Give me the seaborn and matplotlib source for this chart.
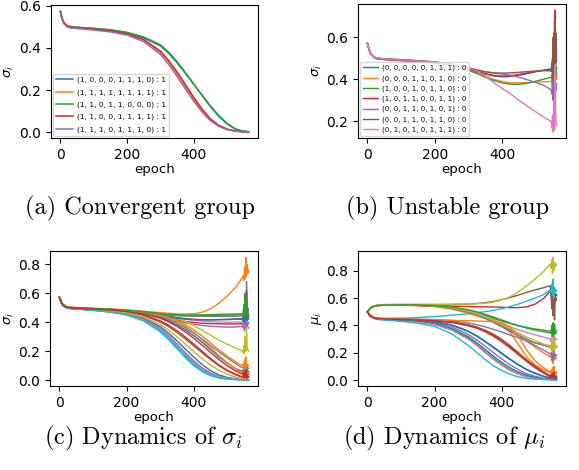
import numpy as np
import pandas as pd
import matplotlib
matplotlib.use("Agg")
import matplotlib.pyplot as plt
import seaborn as sns

plt.rcParams["xtick.labelsize"] = 10
plt.rcParams["ytick.labelsize"] = 10
plt.rcParams["axes.labelsize"] = 9.5

EPOCH_MAIN = [0, 5, 10, 20, 30, 50, 100, 150, 200, 250, 300, 325, 350, 375, 400, 425, 450, 475, 500, 525, 545]
EPOCH_A = EPOCH_MAIN + [565]
EPOCH_B = EPOCH_MAIN + [547, 549, 551, 553, 555, 557, 559, 561]
EPOCH_CD = EPOCH_MAIN + [548, 550, 552, 554, 556, 558, 560, 562, 564]

# (a) convergent group
labels_a = ["(1, 0, 0, 0, 1, 1, 1, 0) : 1", "(1, 1, 1, 1, 1, 1, 1, 1) : 1", "(1, 1, 0, 1, 1, 0, 0, 0) : 1",
            "(1, 1, 0, 0, 1, 1, 1, 1) : 1", "(1, 1, 1, 0, 1, 1, 1, 0) : 1"]
sigma_a = [
    [.572, .540, .520, .505, .500, .497, .492, .485, .472, .448, .410, .375, .330, .280, .228, .176, .125, .080, .042, .016, .006, .002],
    [.572, .540, .520, .505, .500, .497, .490, .482, .468, .438, .380, .333, .278, .218, .158, .103, .060, .030, .013, .005, .002, .001],
    [.575, .540, .520, .506, .501, .498, .493, .486, .474, .452, .415, .380, .335, .284, .230, .175, .122, .076, .040, .015, .005, .002],
    [.570, .540, .520, .504, .499, .496, .489, .481, .467, .440, .385, .340, .286, .227, .166, .110, .064, .033, .015, .006, .002, .001],
    [.568, .535, .515, .500, .495, .492, .485, .476, .461, .430, .370, .322, .266, .206, .148, .096, .055, .028, .012, .004, .002, .001],
]

# (b) unstable group
labels_b = ["(0, 0, 0, 0, 0, 1, 1, 1) : 0", "(0, 0, 0, 1, 1, 0, 1, 0) : 0", "(1, 0, 0, 1, 0, 1, 1, 0) : 0",
            "(1, 0, 1, 1, 0, 0, 1, 1) : 0", "(0, 0, 1, 1, 0, 1, 0, 1) : 0", "(0, 0, 1, 1, 0, 1, 1, 0) : 0",
            "(0, 1, 0, 1, 0, 1, 1, 1) : 0"]
sigma_b = [
    [.570, .540, .520, .503, .497, .494, .489, .484, .478, .467, .448, .437, .425, .416, .412, .414, .420, .428, .437, .445, .450, .440, .470, .420, .550, .400, .600, .450, .420],
    [.572, .540, .520, .505, .500, .497, .492, .487, .480, .468, .445, .430, .414, .400, .390, .384, .383, .385, .387, .389, .390, .400, .360, .450, .330, .500, .380, .440, .400],
    [.572, .540, .520, .505, .500, .497, .492, .486, .479, .466, .443, .428, .410, .395, .383, .377, .377, .382, .392, .402, .410, .420, .380, .470, .360, .520, .400, .460, .430],
    [.570, .540, .520, .504, .498, .495, .490, .485, .479, .468, .449, .438, .427, .419, .416, .418, .424, .431, .438, .443, .446, .450, .500, .420, .620, .400, .730, .480, .550],
    [.572, .540, .520, .506, .501, .498, .494, .489, .483, .472, .455, .445, .436, .430, .426, .420, .410, .398, .385, .370, .350, .330, .380, .300, .450, .320, .400, .350, .380],
    [.572, .540, .520, .506, .501, .498, .494, .489, .483, .472, .455, .445, .436, .431, .430, .431, .434, .437, .440, .442, .440, .480, .400, .600, .420, .680, .450, .620, .500],
    [.570, .540, .520, .505, .500, .497, .492, .487, .481, .470, .455, .440, .415, .385, .357, .330, .300, .272, .245, .218, .200, .170, .230, .150, .300, .160, .470, .200, .180],
]

# (c) dynamics of sigma_i
sigma_c = [
    [.572, .540, .520, .505, .500, .496, .488, .478, .462, .430, .370, .325, .272, .215, .160, .108, .066, .036, .018, .008, .004, .004, .003, .003, .003, .002, .002, .002, .002, .002],
    [.575, .545, .525, .510, .505, .502, .497, .492, .486, .476, .466, .462, .458, .456, .458, .468, .492, .530, .580, .640, .705, .720, .690, .780, .700, .850, .720, .800, .740, .760],
    [.572, .540, .520, .506, .501, .498, .493, .488, .481, .470, .456, .450, .446, .444, .443, .444, .446, .448, .449, .450, .452, .440, .500, .400, .550, .420, .600, .450, .470, .440],
    [.570, .540, .520, .504, .499, .496, .490, .484, .476, .462, .440, .428, .416, .405, .398, .393, .390, .389, .388, .388, .390, .380, .420, .360, .480, .400, .550, .380, .400, .390],
    [.570, .540, .520, .504, .499, .496, .490, .484, .475, .460, .436, .422, .408, .396, .386, .378, .372, .368, .366, .366, .372, .360, .400, .340, .440, .360, .500, .380, .370, .360],
    [.572, .540, .520, .505, .500, .497, .491, .484, .472, .448, .402, .370, .330, .285, .238, .190, .143, .100, .064, .036, .020, .030, .015, .050, .020, .060, .010, .040, .020, .020],
    [.572, .540, .520, .506, .501, .498, .493, .487, .479, .466, .447, .437, .428, .420, .413, .408, .404, .401, .400, .400, .402, .390, .430, .370, .460, .400, .520, .410, .400, .400],
    [.574, .545, .525, .508, .503, .500, .495, .490, .483, .472, .458, .452, .447, .444, .442, .441, .440, .440, .440, .441, .443, .430, .520, .410, .600, .440, .680, .470, .500, .450],
    [.574, .545, .525, .508, .503, .500, .495, .489, .482, .470, .452, .440, .425, .405, .378, .345, .310, .278, .248, .222, .200, .190, .240, .180, .300, .200, .360, .220, .210, .200],
    [.570, .535, .515, .500, .495, .491, .482, .470, .450, .410, .335, .280, .218, .155, .100, .058, .030, .014, .006, .003, .002, .002, .002, .001, .001, .001, .001, .001, .001, .001],
    [.572, .540, .520, .505, .500, .497, .492, .487, .478, .462, .432, .410, .382, .348, .308, .262, .212, .162, .118, .080, .060, .070, .050, .090, .040, .100, .050, .070, .060, .060],
    [.572, .540, .520, .506, .501, .498, .493, .488, .481, .468, .445, .428, .404, .372, .330, .280, .225, .170, .120, .078, .050, .060, .040, .080, .030, .090, .040, .050, .050, .050],
    [.570, .535, .515, .501, .496, .492, .484, .473, .455, .418, .348, .296, .237, .176, .120, .074, .042, .022, .010, .004, .002, .002, .002, .002, .002, .002, .002, .002, .002, .002],
    [.570, .540, .520, .505, .500, .497, .492, .486, .477, .460, .428, .404, .372, .334, .290, .242, .192, .144, .100, .064, .040, .050, .030, .070, .020, .080, .030, .040, .040, .040],
    [.570, .535, .515, .501, .496, .492, .484, .474, .458, .424, .358, .308, .250, .190, .134, .086, .050, .026, .012, .005, .003, .003, .003, .002, .002, .002, .002, .002, .002, .002],
    [.572, .540, .520, .506, .501, .498, .493, .487, .479, .467, .449, .440, .432, .425, .420, .418, .417, .418, .420, .422, .425, .420, .480, .390, .550, .430, .620, .440, .450, .430],
    [.570, .535, .515, .500, .495, .491, .483, .472, .455, .418, .350, .298, .240, .180, .124, .078, .044, .023, .011, .005, .003, .003, .003, .002, .002, .002, .002, .002, .002, .002],
    [.573, .540, .520, .506, .501, .498, .493, .488, .480, .466, .440, .420, .394, .362, .325, .284, .240, .196, .154, .114, .085, .090, .070, .120, .060, .140, .070, .100, .080, .080],
    [.572, .540, .520, .505, .500, .496, .489, .480, .466, .438, .385, .346, .300, .250, .198, .148, .104, .068, .040, .020, .010, .010, .008, .008, .006, .006, .005, .005, .005, .005],
    [.570, .535, .515, .500, .495, .491, .482, .471, .452, .414, .342, .288, .228, .166, .110, .066, .036, .018, .008, .003, .002, .002, .002, .001, .001, .001, .001, .001, .001, .001],
    [.572, .540, .520, .505, .500, .497, .492, .487, .479, .466, .448, .438, .429, .422, .418, .416, .416, .417, .418, .420, .420, .410, .450, .390, .500, .420, .470, .410, .420, .420],
    [.572, .540, .520, .506, .501, .498, .493, .488, .481, .469, .448, .433, .412, .384, .348, .305, .258, .210, .166, .126, .100, .110, .080, .140, .070, .160, .090, .110, .100, .100],
    [.573, .542, .522, .507, .502, .499, .494, .489, .482, .472, .459, .454, .451, .450, .450, .451, .452, .454, .455, .456, .457, .450, .520, .440, .600, .460, .560, .450, .460, .450],
    [.570, .540, .520, .505, .500, .497, .491, .485, .474, .452, .410, .380, .342, .298, .250, .200, .150, .105, .068, .040, .022, .030, .015, .050, .020, .070, .010, .030, .020, .020],
]

# (d) dynamics of mu_i
mu_d = [
    [.500, .480, .468, .455, .450, .447, .443, .438, .428, .405, .360, .326, .286, .243, .198, .154, .113, .078, .050, .028, .015, .012, .010, .010, .008, .008, .008, .008, .008, .008],
    [.500, .515, .528, .540, .545, .548, .548, .545, .538, .520, .490, .470, .452, .435, .410, .350, .260, .170, .110, .075, .055, .060, .040, .080, .030, .100, .040, .060, .050, .050],
    [.500, .515, .528, .540, .546, .550, .551, .549, .544, .532, .510, .494, .474, .452, .432, .414, .398, .385, .374, .365, .358, .360, .400, .340, .420, .360, .410, .370, .360, .360],
    [.500, .515, .528, .540, .545, .548, .548, .546, .544, .541, .538, .537, .536, .535, .533, .530, .530, .536, .556, .596, .650, .620, .680, .580, .660, .550, .640, .600, .630, .620],
    [.500, .478, .466, .453, .448, .445, .440, .433, .420, .390, .335, .295, .250, .202, .155, .112, .075, .046, .026, .013, .007, .006, .005, .005, .004, .004, .004, .004, .004, .004],
    [.500, .516, .530, .542, .548, .551, .552, .552, .552, .553, .556, .560, .566, .575, .588, .604, .622, .642, .660, .676, .690, .600, .520, .650, .470, .620, .440, .600, .580, .600],
    [.500, .515, .528, .540, .546, .550, .551, .549, .544, .530, .505, .487, .465, .440, .415, .390, .368, .348, .330, .315, .300, .280, .330, .260, .350, .280, .320, .290, .300, .300],
    [.500, .482, .470, .458, .453, .451, .448, .446, .443, .435, .418, .405, .390, .372, .352, .330, .308, .288, .272, .260, .250, .240, .280, .220, .300, .240, .270, .250, .250, .250],
    [.500, .518, .532, .544, .550, .553, .555, .555, .555, .555, .556, .558, .562, .570, .585, .610, .645, .690, .740, .795, .850, .820, .880, .780, .900, .800, .860, .830, .850, .840],
    [.500, .480, .467, .455, .452, .451, .453, .458, .465, .474, .485, .492, .500, .510, .522, .538, .556, .578, .600, .625, .660, .640, .700, .620, .740, .600, .680, .650, .660, .650],
    [.500, .478, .466, .452, .447, .443, .436, .428, .412, .378, .318, .275, .226, .176, .130, .090, .058, .034, .018, .009, .005, .005, .004, .004, .004, .003, .003, .003, .003, .003],
    [.500, .515, .528, .540, .545, .548, .548, .546, .542, .530, .505, .488, .466, .440, .410, .372, .330, .285, .240, .200, .170, .180, .140, .200, .120, .220, .150, .170, .160, .160],
    [.500, .478, .465, .452, .446, .442, .434, .425, .408, .372, .308, .262, .210, .160, .115, .076, .046, .025, .012, .006, .003, .003, .002, .002, .002, .002, .002, .002, .002, .002],
    [.500, .480, .468, .455, .450, .447, .444, .441, .436, .426, .405, .388, .365, .336, .298, .252, .200, .148, .100, .060, .030, .040, .020, .050, .020, .060, .020, .030, .030, .030],
    [.500, .515, .527, .539, .545, .549, .550, .547, .540, .525, .498, .478, .452, .422, .390, .355, .320, .285, .252, .220, .190, .200, .150, .230, .140, .240, .170, .190, .180, .180],
    [.500, .480, .468, .455, .450, .447, .444, .441, .435, .425, .403, .386, .362, .330, .290, .244, .194, .144, .098, .058, .028, .040, .020, .060, .015, .070, .020, .030, .025, .025],
    [.500, .478, .465, .452, .446, .442, .433, .423, .405, .366, .300, .254, .202, .152, .108, .070, .042, .022, .011, .005, .003, .003, .002, .002, .002, .002, .002, .002, .002, .002],
    [.500, .515, .528, .540, .546, .549, .550, .548, .542, .528, .502, .484, .460, .432, .400, .366, .332, .300, .272, .254, .240, .230, .270, .210, .290, .230, .260, .240, .240, .240],
    [.500, .516, .529, .541, .547, .551, .552, .550, .544, .530, .505, .487, .464, .438, .410, .378, .346, .315, .288, .264, .245, .230, .300, .200, .340, .220, .280, .240, .250, .245],
    [.500, .477, .464, .450, .444, .440, .430, .416, .392, .340, .255, .204, .152, .106, .070, .042, .023, .012, .006, .003, .002, .002, .002, .001, .001, .001, .001, .001, .001, .001],
    [.500, .479, .467, .454, .449, .446, .441, .436, .426, .402, .356, .322, .282, .238, .194, .150, .110, .075, .047, .026, .012, .012, .010, .010, .010, .010, .010, .010, .010, .010],
    [.500, .480, .468, .455, .450, .447, .445, .443, .441, .438, .434, .432, .430, .428, .420, .390, .320, .220, .140, .090, .060, .070, .050, .090, .040, .100, .050, .060, .060, .060],
    [.500, .515, .528, .540, .546, .550, .551, .549, .545, .535, .515, .500, .482, .462, .440, .418, .398, .380, .366, .354, .345, .340, .380, .320, .400, .330, .370, .340, .345, .345],
    [.500, .480, .468, .455, .450, .447, .444, .440, .434, .422, .398, .380, .355, .322, .282, .236, .186, .136, .090, .052, .022, .030, .015, .045, .015, .055, .015, .025, .020, .020],
]


def to_long(epochs, curves, names):
    parts = []
    for name, vals in zip(names, curves):
        parts.append(pd.DataFrame({"epoch": epochs[:len(vals)], "value": vals, "curve": name}))
    return pd.concat(parts, ignore_index=True)


df_a = to_long(EPOCH_A, sigma_a, labels_a)
df_b = to_long(EPOCH_B, sigma_b, labels_b)
names_c = [f"c{i}" for i in range(len(sigma_c))]
names_d = [f"d{i}" for i in range(len(mu_d))]
df_c = to_long(EPOCH_CD, sigma_c, names_c)
df_d = to_long(EPOCH_CD, mu_d, names_d)

W, H = 579, 470
fig = plt.figure(figsize=(W / 100, H / 100), dpi=100)


def add_ax(left, top, right, bottom):
    return fig.add_axes([left / W, 1 - bottom / H, (right - left) / W, (bottom - top) / H])


ax_a = add_ax(51, 5, 258, 138)
ax_b = add_ax(358, 4, 566, 138)
ax_c = add_ax(50, 251, 258, 386)
ax_d = add_ax(358, 251, 566, 386)

sns.lineplot(data=df_a, x="epoch", y="value", hue="curve", palette=sns.color_palette("tab10", 5),
             sort=False, lw=1.1, ax=ax_a)
sns.move_legend(ax_a, "lower left", title=None, fontsize=5.4, handlelength=2.2, borderpad=0.4,
                labelspacing=0.75, handletextpad=0.6, borderaxespad=0.3)

sns.lineplot(data=df_b, x="epoch", y="value", hue="curve", palette=sns.color_palette("tab10", 7),
             sort=False, lw=1.0, ax=ax_b)
sns.move_legend(ax_b, "lower left", title=None, fontsize=5.0, handlelength=2.2, borderpad=0.4,
                labelspacing=0.55, handletextpad=0.6, borderaxespad=0.3)

sns.lineplot(data=df_c, x="epoch", y="value", hue="curve", palette=sns.color_palette("tab10", len(names_c)),
             sort=False, lw=1.0, legend=False, ax=ax_c)
sns.lineplot(data=df_d, x="epoch", y="value", hue="curve", palette=sns.color_palette("tab10", len(names_d)),
             sort=False, lw=1.0, legend=False, ax=ax_d)

ax_a.set_yticks([0.0, 0.2, 0.4, 0.6])
ax_b.set_yticks([0.2, 0.4, 0.6])
ax_c.set_yticks([0.0, 0.2, 0.4, 0.6, 0.8])
ax_d.set_yticks([0.0, 0.2, 0.4, 0.6, 0.8])

for ax, ylab in [(ax_a, r"$\sigma_i$"), (ax_b, r"$\sigma_i$"), (ax_c, r"$\sigma_i$"), (ax_d, r"$\mu_i$")]:
    ax.set_xticks([0, 200, 400])
    ax.set_xlabel("epoch", labelpad=1)
    ax.set_ylabel(ylab, labelpad=2)

captions = [(140, 208, "(a) Convergent group"), (447, 208, "(b) Unstable group"),
            (143, 438, r"(c) Dynamics of $\sigma_i$"), (444, 438, r"(d) Dynamics of $\mu_i$")]
for x, y, txt in captions:
    fig.text(x / W, 1 - y / H, txt, ha="center", va="center", fontsize=17.5,
             family="cmr10", math_fontfamily="cm")

fig.savefig("out.png", dpi=100)
